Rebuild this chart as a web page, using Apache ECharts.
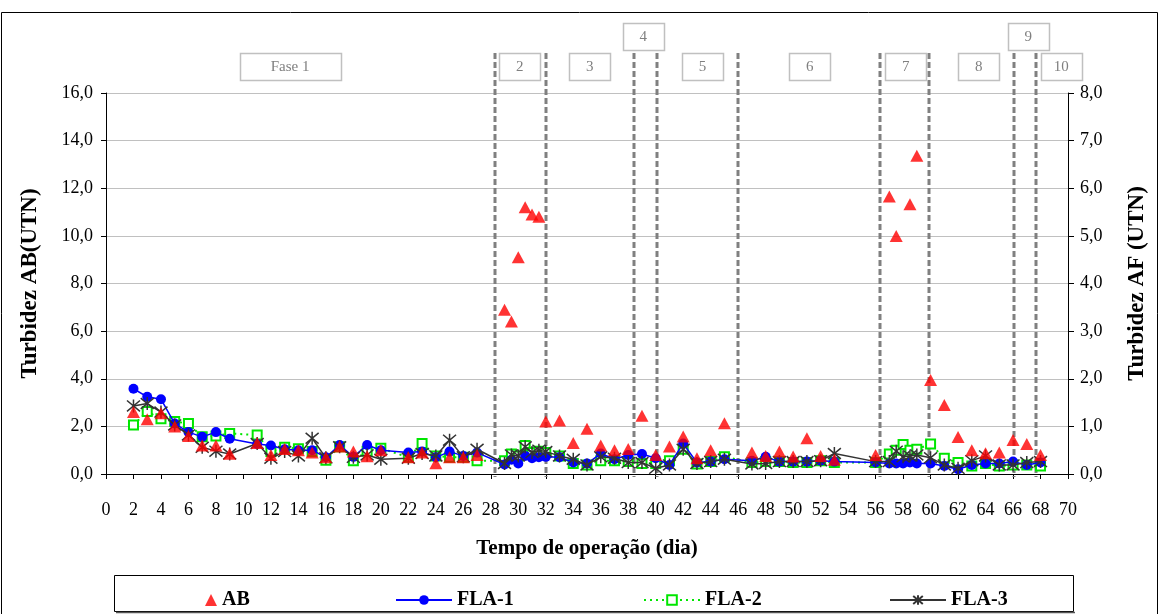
<!DOCTYPE html>
<html>
<head>
<meta charset="utf-8">
<script src="https://cdn.jsdelivr.net/npm/echarts@6/dist/echarts.min.js"></script>
<style>
  html, body { margin: 0; padding: 0; background: #fff; }
  #chart { width: 1159px; height: 614px; }
</style>
</head>
<body>
<div id="chart"></div>
<script>
// Raw-water turbidity (AB, left axis) and filtered-water turbidity (FLA-1..3, right axis)
const abDays = [2,3,4,5,6,7,8,9,11,12,13,14,15,16,17,18,19,20,22,23,24,25,26,27,
  29,29.5,30,30.5,31,31.5,32,33,34,35,36,37,38,39,40,41,42,43,44,45,
  47,48,49,50,51,52,53,56,57,57.5,58.5,59,60,61,62,63,64,65,66,67,68];
const abValues = [2.6,2.3,2.55,2.0,1.6,1.2,1.2,0.85,1.3,0.8,1.05,1.0,0.9,0.7,1.15,0.95,0.75,1.0,
  0.7,0.9,0.45,0.7,0.7,0.8,
  6.9,6.4,9.1,11.2,10.9,10.8,2.2,2.25,1.3,1.9,1.2,1.0,1.05,2.45,0.8,1.15,1.57,0.66,1.0,2.13,
  0.9,0.76,0.95,0.73,1.5,0.76,0.6,0.8,11.65,10.0,11.33,13.36,3.95,2.9,1.55,1.0,0.87,0.9,1.43,1.26,0.8];

const flaDays = [2,3,4,5,6,7,8,9,11,12,13,14,15,16,17,18,19,20,22,23,24,25,26,27,
  29,29.5,30,30.5,31,31.5,32,33,34,35,36,37,38,39,40,41,42,43,44,45,
  47,48,49,50,51,52,53,56,57,57.5,58,58.5,59,60,61,62,63,64,65,66,67,68];
const fla1Values = [1.79,1.62,1.57,1.06,0.88,0.78,0.88,0.74,
  0.63,0.60,0.52,0.50,0.50,0.35,0.61,0.36,0.61,0.50,
  0.45,0.47,0.35,0.47,0.38,0.45,
  0.20,0.30,0.22,0.38,0.33,0.35,
  0.36,0.35,0.24,0.22,0.43,0.31,0.40,0.42,0.33,0.19,0.64,0.24,0.26,0.31,
  0.28,0.36,0.26,0.26,0.26,0.28,0.26,
  0.24,
  0.22,0.22,0.22,0.24,0.22,
  0.22,0.17,0.10,0.19,0.22,0.22,0.26,0.19,0.24];
const fla2Values = [1.03,1.31,1.16,1.10,1.06,0.78,0.80,0.85,
  0.82,0.47,0.56,0.53,0.47,0.29,0.57,0.28,0.48,0.54,
  0.35,0.64,0.38,0.35,0.35,0.28,
  0.28,0.42,0.38,0.60,0.45,0.48,
  0.45,0.38,0.22,0.19,0.28,0.28,0.26,0.22,0.22,0.28,0.52,0.21,0.26,0.36,
  0.24,0.26,0.26,0.24,0.24,0.28,0.24,
  0.24,
  0.42,0.50,0.62,0.50,0.52,
  0.63,0.33,0.24,0.17,0.22,0.17,0.19,0.19,0.17];
const fla3Values = [1.43,1.48,1.30,1.03,0.82,0.56,0.48,0.42,
  0.64,0.33,0.47,0.38,0.75,0.34,0.57,0.35,0.40,0.31,
  0.33,0.43,0.38,0.71,0.36,0.52,
  0.22,0.40,0.38,0.57,0.45,0.50,
  0.47,0.38,0.31,0.19,0.36,0.33,0.24,0.24,0.12,0.19,0.52,0.22,0.26,0.31,
  0.21,0.22,0.26,0.26,0.26,0.28,0.43,
  0.26,
  0.26,0.48,0.36,0.38,0.40,
  0.34,0.19,0.12,0.28,0.38,0.19,0.19,0.24,0.26];

// Operating phases: boundaries (day) and label boxes
const phaseBounds = [28.3, 32, 38.4, 40.1, 46, 56.3, 59.9, 66.1, 67.7];
const phaseLabels = ['Fase 1','2','3','4','5','6','7','8','9','10'];
const phaseLabelDay = [13.4, 30.1, 35.2, 39.1, 43.4, 51.2, 58.2, 63.5, 67.1, 69.5];
const phaseLabelRow = [0, 0, 0, 1, 0, 0, 0, 0, 1, 0];

const serif = 'Liberation Serif';
const pair = (xs, ys) => xs.map((x, i) => [x, ys[i]]);
const comma = v => v.toFixed(1).replace('.', ',');
const asterisk = 'path://M0,0L10,10M0,10L10,0M5,-1L5,11';

const chart = echarts.init(document.getElementById('chart'), null, { renderer: 'canvas' });

const legendText = { fontFamily: serif, fontWeight: 'bold', fontSize: 20, color: '#000' };
const legendBase = { top: 585, orient: 'horizontal', textStyle: legendText, selectedMode: false, itemGap: 0 };
const titleText = { fontFamily: serif, fontWeight: 'bold', color: '#000' };

chart.setOption({
  animation: false,
  backgroundColor: '#fff',
  grid: { left: 106, right: 91, top: 93, bottom: 140 },
  xAxis: {
    type: 'value', min: 0, max: 70, interval: 2,
    name: 'Tempo de operação (dia)', nameLocation: 'middle', nameGap: 64,
    nameTextStyle: Object.assign({ fontSize: 21 }, titleText),
    axisLine: { onZero: false, lineStyle: { color: '#000', width: 1 } },
    axisTick: { length: 5, lineStyle: { color: '#000' } },
    axisLabel: { fontFamily: serif, fontSize: 18, color: '#000', margin: 27 },
    splitLine: { show: false }
  },
  yAxis: [
    {
      type: 'value', min: 0, max: 16, interval: 2, position: 'left',
      name: 'Turbidez AB(UTN)', nameLocation: 'middle', nameGap: 64, nameRotate: 90,
      nameTextStyle: Object.assign({ fontSize: 23 }, titleText),
      axisLine: { show: true, lineStyle: { color: '#000', width: 1 } },
      axisTick: { show: true, length: 5, lineStyle: { color: '#000' } },
      axisLabel: { fontFamily: serif, fontSize: 18, color: '#000', margin: 13, formatter: comma },
      splitLine: { show: true, lineStyle: { color: '#c0c0c0', width: 1 } }
    },
    {
      type: 'value', min: 0, max: 8, interval: 1, position: 'right',
      name: 'Turbidez AF (UTN)', nameLocation: 'middle', nameGap: 58, nameRotate: 90,
      nameTextStyle: Object.assign({ fontSize: 23 }, titleText),
      axisLine: { show: true, lineStyle: { color: '#000', width: 1 } },
      axisTick: { show: true, length: 6, lineStyle: { color: '#000' } },
      axisLabel: { fontFamily: serif, fontSize: 18, color: '#000', margin: 12, formatter: comma },
      splitLine: { show: false }
    }
  ],
  legend: [
    Object.assign({}, legendBase, { left: 200, itemWidth: 12, itemHeight: 12, data: [{ name: 'AB', icon: 'triangle' }] }),
    Object.assign({}, legendBase, { left: 390, itemWidth: 56, itemHeight: 12, data: ['FLA-1'] }),
    Object.assign({}, legendBase, { left: 638, itemWidth: 56, itemHeight: 12, data: ['FLA-2'] }),
    Object.assign({}, legendBase, { left: 884, itemWidth: 56, itemHeight: 12, data: ['FLA-3'] })
  ],
  series: [
    {
      name: 'FLA-2', type: 'line', yAxisIndex: 1, data: pair(flaDays, fla2Values),
      symbol: 'emptyRect', symbolSize: 9,
      lineStyle: { color: '#00e600', width: 2, type: [2, 4] },
      itemStyle: { color: '#00e600', borderColor: '#00e600', borderWidth: 1.5 },
      z: 3
    },
    {
      name: 'FLA-1', type: 'line', yAxisIndex: 1, data: pair(flaDays, fla1Values),
      symbol: 'circle', symbolSize: 10,
      lineStyle: { color: '#0000ff', width: 1.5 },
      itemStyle: { color: '#0000ff' },
      z: 4
    },
    {
      name: 'FLA-3', type: 'line', yAxisIndex: 1, data: pair(flaDays, fla3Values),
      symbol: asterisk, symbolSize: 13,
      lineStyle: { color: '#333333', width: 1.5 },
      itemStyle: { color: '#333333', borderColor: '#333333', borderWidth: 1.5 },
      z: 5
    },
    {
      name: 'AB', type: 'scatter', yAxisIndex: 0, data: pair(abDays, abValues),
      symbol: 'triangle', symbolSize: [13, 12],
      itemStyle: { color: '#ff0000' },
      z: 6
    }
  ]
});

// Phase separators, phase label boxes, legend frame and outer frame
function drawDecorations() {
  const els = [];
  const yBottom = chart.convertToPixel({ yAxisIndex: 0 }, 0) + 3;
  const lineTop = 53;
  phaseBounds.forEach(d => {
    const x = Math.round(chart.convertToPixel({ xAxisIndex: 0 }, d));
    els.push({
      type: 'line', z: 1, silent: true,
      shape: { x1: x, y1: lineTop, x2: x, y2: yBottom },
      style: { stroke: '#808080', lineWidth: 3, lineDash: [6, 3] }
    });
  });
  phaseLabels.forEach((label, i) => {
    const cx = chart.convertToPixel({ xAxisIndex: 0 }, phaseLabelDay[i]);
    const w = i === 0 ? 101 : 41;
    const y = phaseLabelRow[i] === 1 ? 23.5 : 53.5;
    els.push({
      type: 'rect', z: 10, silent: true,
      shape: { x: Math.round(cx - w / 2) + 0.5, y: y, width: w, height: 27 },
      style: { fill: '#fff', stroke: '#c0c0c0', lineWidth: 1.5 }
    });
    els.push({
      type: 'text', z: 11, silent: true,
      x: cx, y: y + 14,
      style: { text: label, fill: '#808080', font: '15px "Liberation Serif"', align: 'center', verticalAlign: 'middle' }
    });
  });
  els.push({
    type: 'rect', z: 1, silent: true,
    shape: { x: 114.5, y: 575.5, width: 959, height: 36 },
    style: { fill: 'none', stroke: '#000', lineWidth: 1 }
  });
  els.push({
    type: 'line', z: 1, silent: true,
    shape: { x1: 116, y1: 612.5, x2: 1075, y2: 612.5 },
    style: { stroke: '#555', lineWidth: 1.5 }
  });
  els.push({
    type: 'rect', z: 1, silent: true,
    shape: { x: 1.5, y: 12.5, width: 1156, height: 700 },
    style: { fill: 'none', stroke: '#000', lineWidth: 1 }
  });
  chart.setOption({ graphic: { elements: els } });
}
drawDecorations();
</script>
</body>
</html>
